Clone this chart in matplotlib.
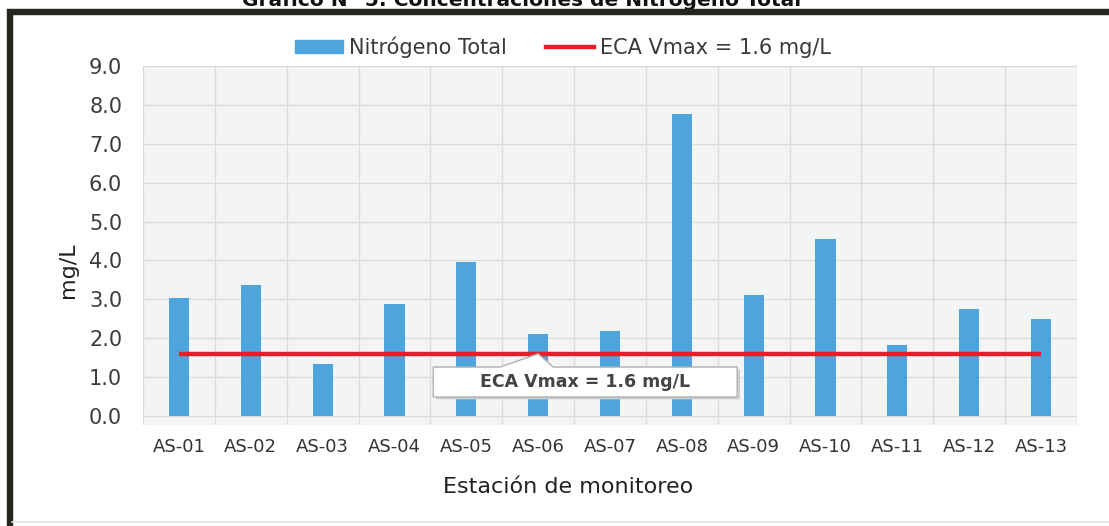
import matplotlib
matplotlib.use("Agg")
import matplotlib.pyplot as plt
from matplotlib.patches import Polygon
from matplotlib.lines import Line2D
import numpy as np

# ---- data ----
stations = ["AS-01", "AS-02", "AS-03", "AS-04", "AS-05", "AS-06", "AS-07",
            "AS-08", "AS-09", "AS-10", "AS-11", "AS-12", "AS-13"]
nitrogeno_total = [3.03, 3.37, 1.34, 2.87, 3.97, 2.11, 2.19,
                   7.76, 3.11, 4.55, 1.83, 2.76, 2.50]
eca_vmax = 1.6
yticks = [0, 1, 2, 3, 4, 5, 6, 7, 8, 9]
title = "Gráfico N° 5: Concentraciones de Nitrógeno Total"
bar_label = "Nitrógeno Total"
eca_label = "ECA Vmax = 1.6 mg/L"
xlabel = "Estación de monitoreo"
ylabel = "mg/L"

plt.rcParams['font.family'] = ['DejaVu Sans']

W, H = 1109, 526
fig = plt.figure(figsize=(W / 100, H / 100), dpi=100)
fig.patch.set_facecolor("white")

ax = fig.add_axes([143 / W, 1 - 425 / H, (1077 - 143) / W, (425 - 66) / H])
ax.set_facecolor("#f3f4f5")

x = np.arange(len(stations))
bar_color = "#4ea5de"
red = "#e3202a"

ax.bar(x, nitrogeno_total, width=0.28, color=bar_color, zorder=3,
       label=bar_label)
ax.plot(x, [eca_vmax] * len(x), color=red, lw=3.2, zorder=4,
        solid_capstyle="butt", label=eca_label)

ax.set_xlim(-0.5, len(stations) - 0.5)
ax.set_ylim(-0.23, 9.0)
ax.set_yticks(yticks)
ax.set_yticklabels([f"{v:.1f}" for v in yticks], fontsize=15, color="#3c3c3c")
ax.set_xticks(x)
ax.set_xticklabels(stations, fontsize=13, color="#333333")
ax.set_xticks(np.arange(len(stations) + 1) - 0.5, minor=True)
ax.tick_params(axis="y", length=0, pad=15)
ax.tick_params(axis="x", which="both", length=0, pad=9)
ax.grid(axis="y", which="major", color="#d9dbdd", lw=1.0, zorder=0)
ax.grid(axis="x", which="minor", color="#d9dbdd", lw=1.0, zorder=0)
for s in ax.spines.values():
    s.set_visible(False)

# Callout annotation (Excel style)
i6 = stations.index("AS-06")
box = [(i6 - 1.46, 0.49), (i6 - 1.46, 1.26), (i6 - 0.53, 1.26),
       (i6, eca_vmax), (i6 + 0.21, 1.26), (i6 + 2.77, 1.26),
       (i6 + 2.77, 0.49)]
shadow = [(px + 0.04, py - 0.06) for px, py in box]
ax.add_patch(Polygon(shadow, closed=True, facecolor="#d0d0d0",
                     edgecolor="none", zorder=5))
ax.add_patch(Polygon(box, closed=True, facecolor="white",
                     edgecolor="#b0b0b0", lw=1.0, zorder=6))
ax.text(i6 + 0.655, 0.875, eca_label, ha="center", va="center",
        fontsize=12.5, fontweight="bold", color="#444444", zorder=7)

# Legend
leg = fig.legend(handles=[
    plt.Rectangle((0, 0), 1, 1, color=bar_color),
    Line2D([0], [0], color=red, lw=3.2)],
    labels=[bar_label, eca_label],
    loc="center", bbox_to_anchor=(563 / W, 1 - 47 / H), ncol=2,
    frameon=False, fontsize=15, handlelength=2.3, handleheight=0.55,
    columnspacing=1.9, handletextpad=0.3, labelcolor="#3a3a3a")

# Axis labels
fig.text(568 / W, 1 - 487 / H, xlabel, ha="center", va="center",
         fontsize=16, color="#222222")
fig.text(68 / W, 1 - 270 / H, ylabel, ha="center", va="center",
         fontsize=16, color="#222222", rotation=90)

# Title (partly cut at the top edge, as in the scanned reference)
fig.text(522 / W, 1 - 6 / H, title, ha="center", va="baseline",
         fontsize=14.5, fontweight="bold", color="#111111")

# Thick frame
fig.add_artist(Line2D([7 / W, 1.0], [1 - 12 / H, 1 - 12 / H],
                      color="#26261f", lw=4.6, transform=fig.transFigure,
                      solid_capstyle="butt", zorder=10))
fig.add_artist(Line2D([10 / W, 10 / W], [1 - 9 / H, 0.0],
                      color="#26261f", lw=4.6, transform=fig.transFigure,
                      solid_capstyle="butt", zorder=10))
fig.add_artist(Line2D([12 / W, 1.0], [1 - 522 / H, 1 - 522 / H],
                      color="#e2e2e2", lw=1.2, transform=fig.transFigure,
                      zorder=10))

fig.savefig("out.png", dpi=100, facecolor="white")
